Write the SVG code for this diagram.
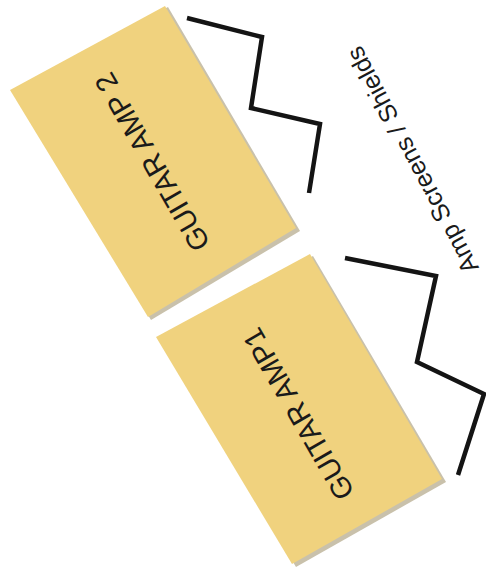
<svg xmlns="http://www.w3.org/2000/svg" width="486" height="572" viewBox="0 0 486 572">
<style>
.shadow{fill:#c9c1ab}
.amp{fill:#f0d27e}
.lbl{font-family:"Liberation Sans",Arial,sans-serif;fill:#1a1a1a;text-anchor:middle}
.scr{fill:none;stroke:#141414;stroke-width:4.5;stroke-linejoin:miter;stroke-linecap:butt}
</style>
<rect width="486" height="572" fill="#ffffff"/>
<g id="amp2">
<polygon class="shadow" points="168,7 300,231 151,320 12,91"/>
<polygon class="amp" points="165,6 296,228 148,317 10,90"/>
<text class="lbl" font-size="29" transform="translate(161,157) rotate(-120)">GUITAR AMP 2</text>
</g>
<g id="amp1">
<polygon class="shadow" points="313,256 446,482 296,567 158,339"/>
<polygon class="amp" points="310,254 442,479 292,564 156,337"/>
<text class="lbl" font-size="29" transform="translate(307,409) rotate(-120)">GUITAR AMP1</text>
</g>
<g id="screens-label">
<text class="lbl" font-size="25" transform="translate(420,156) rotate(-118)">Amp Screens / Shields</text>
</g>
<g id="connectors">
<polyline class="scr" points="187,18 262,37 251,108 320,124 309,193"/>
<polyline class="scr" points="345,258 436,276 417,362 484,394 458,475"/>
</g>
</svg>
